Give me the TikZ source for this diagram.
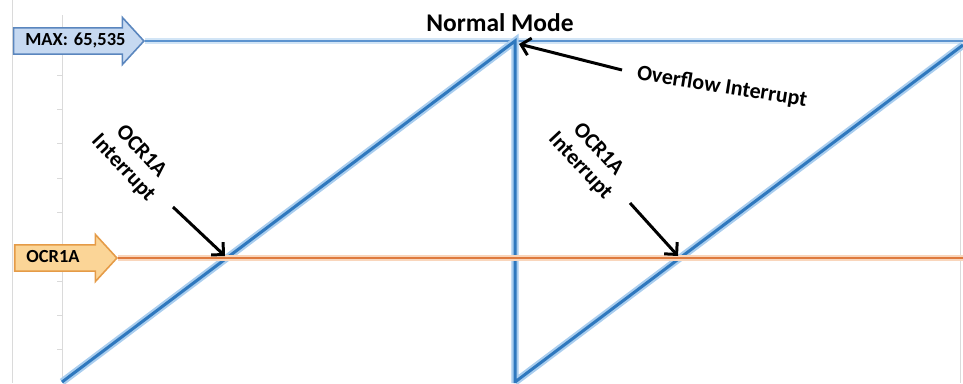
\documentclass[tikz,border=0pt]{standalone}
\usepackage{fontspec}
\setmainfont{Carlito}
\usetikzlibrary{shapes.arrows}
\usetikzlibrary{arrows.meta}

\definecolor{maxfill}{HTML}{C6D9F1}
\definecolor{maxdraw}{HTML}{5A86BE}
\definecolor{ocrfill}{HTML}{FBD597}
\definecolor{ocrdraw}{HTML}{E59B47}
\definecolor{ocrcore}{HTML}{DE7A3E}
\definecolor{ocrhalo}{HTML}{F9D6BC}
\definecolor{sawcore}{HTML}{2F78BE}
\definecolor{sawhalo}{HTML}{A9CDEE}
\definecolor{topcore}{HTML}{5B93CF}
\definecolor{tophalo}{HTML}{D2E5F6}
\definecolor{gridgray}{HTML}{DADADA}

\tikzset{
  levelarrow/.style={single arrow, single arrow tip angle=95,
    single arrow head extend=5.9pt, line width=0.9pt,
    inner xsep=6.2pt, inner ysep=2.8pt, text height=7pt, text depth=1.5pt,
    align=left, font=\fontsize{10.5}{12}\selectfont\bfseries},
  maxarrow/.style={levelarrow, fill=maxfill, draw=maxdraw, text width=54pt},
  ocrarrow/.style={levelarrow, fill=ocrfill, draw=ocrdraw, text width=38pt},
  gridline/.style={draw=gridgray, line width=0.5pt},
  topglow/.style={draw=tophalo, line width=3pt},
  topline/.style={draw=topcore, line width=1.3pt},
  sawglow/.style={draw=sawhalo, line width=4.2pt},
  sawline/.style={draw=sawcore, line width=1.7pt},
  ocrglow/.style={draw=ocrhalo, line width=3.5pt},
  ocrline/.style={draw=ocrcore, line width=1.4pt},
  title/.style={font=\fontsize{14.5}{16}\selectfont\bfseries},
  note/.style={font=\fontsize{12.5}{14}\selectfont\bfseries, align=center},
  pointer/.style={line width=1.7pt, -{Straight Barb[length=5pt, width=10pt]}}
}

\begin{document}
\begin{tikzpicture}[x=0.02cm, y=-0.02cm]
  \useasboundingbox (0,0) rectangle (963,383);

  % axis and page edges
  \draw[gridline] (12,0) -- (12,383);
  \draw[gridline] (62,15) -- (62,383);
  \draw[gridline] (960,50) -- (960,383);
  \foreach \k in {1,...,9}
    \draw[gridline] (57,{41+34.3*\k}) -- (62,{41+34.3*\k});

  \coordinate (base1) at (62,382);
  \coordinate (peak) at (515,41);
  \coordinate (drop) at (515,383);
  \coordinate (base2) at (515,382);
  \coordinate (peak2) at (963,45);
  \coordinate (maxend) at (963,41);
  \coordinate (ocrend) at (963,258);

  \node[maxarrow, anchor=tip] (maxarr) at (145,41) {\mbox{MAX: 65,535}};
  \node[ocrarrow, anchor=tip] (ocrarr) at (118,258) {\mbox{OCR1A}};

  \draw[topglow] (maxarr.tip) -- (maxend);
  \draw[topline] (maxarr.tip) -- (maxend);
  \draw[sawglow] (base1) -- (peak) -- (drop) (base2) -- (peak2);
  \draw[sawline] (base1) -- (peak) -- (drop) (base2) -- (peak2);
  \draw[ocrglow] (ocrarr.tip) -- (ocrend);
  \draw[ocrline] (ocrarr.tip) -- (ocrend);

  \node[title] (mode) at (500,23) {Normal Mode};
  \node[note, rotate=-9] (ovf) at (722,87) {Overflow Interrupt};
  \node[note, rotate=-47] (int1) at (132,160) {OCR1A\\Interrupt};
  \node[note, rotate=-47] (int2) at (589,158) {OCR1A\\Interrupt};

  \coordinate (ovftail) at (622,70);
  \coordinate (ovftip) at (519,44);
  \coordinate (tail1) at (173,207);
  \coordinate (hit1) at (225,256);
  \coordinate (tail2) at (630,203);
  \coordinate (hit2) at (678,256);

  \draw[pointer] (ovftail) -- (ovftip);
  \draw[pointer] (tail1) -- (hit1);
  \draw[pointer] (tail2) -- (hit2);
\end{tikzpicture}
\end{document}
